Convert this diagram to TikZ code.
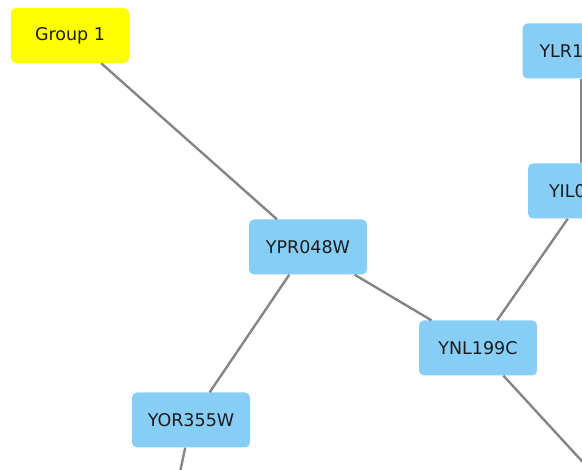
\documentclass[tikz,border=0pt]{standalone}
\usepackage{fontspec}
\setmainfont{DejaVu Sans}
\definecolor{genemain}{HTML}{87CEF7}
\definecolor{genegroup}{HTML}{FFFF00}
\definecolor{geneedge}{HTML}{858585}
\definecolor{genetext}{HTML}{1C1C1C}

\begin{document}
\begin{tikzpicture}[x=1pt, y=-1pt,
    gene/.style={rectangle, fill=genemain, rounded corners=5pt, minimum width=118pt, minimum height=55pt, text=genetext, font=\fontsize{17.5}{19}\selectfont},
    groupbox/.style={gene, fill=genegroup},
    cutgene/.style={gene, align=left, text width=#1, inner xsep=17pt},
    link/.style={draw=geneedge, line width=2.4pt}]
            \useasboundingbox (0,0) rectangle (582,470);
            \clip (0,0) rectangle (582,470);

            % Group node
            \node[groupbox] (group1) at (70,35.5) {Group 1};

            % Genes
            \node[gene] (ypr) at (308,247) {YPR048W};
            \node[gene] (ynl) at (478,348) {YNL199C};
            \node[gene] (yor) at (191,420) {YOR355W};

            % Genes at the right edge
            \node[cutgene=84pt] (ylr) at (581.5,51) {YLR1};
            \node[cutgene=76pt, inner xsep=21pt] (yil) at (587,191) {YIL0};

            % Ends outside the frame
            \coordinate (yorout) at (170,520);
            \coordinate (ynlout) at (636,520);

            \draw[link] (group1) -- (ypr);
            \draw[link] (ypr) -- (yor);
            \draw[link] (ypr) -- (ynl);
            \draw[link] (ynl) -- (yil);
            \draw[link] (ylr) -- (ylr |- yil.north);
            \draw[link] (ynl) -- (ynlout);
            \draw[link] (yor) -- (yorout);
        \end{tikzpicture}
\end{document}
